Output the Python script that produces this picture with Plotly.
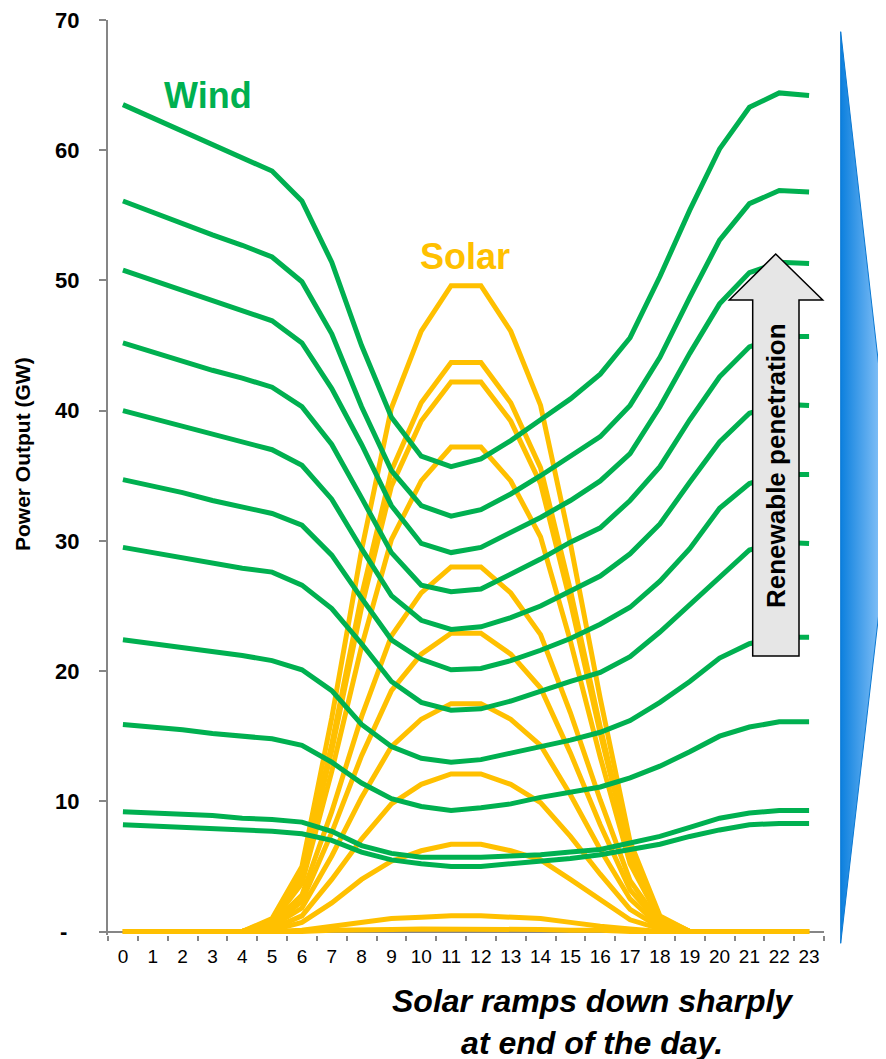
import plotly.graph_objects as go

# ---------------- data ----------------
hours = [str(h) for h in range(24)]

wind_1 = [63.5, 62.5, 61.5, 60.4, 59.4, 58.4, 56.1, 51.4, 45.0, 39.5, 36.5, 35.7, 36.3, 37.7, 39.3, 40.9, 42.8, 45.6, 50.3, 55.4, 60.1, 63.3, 64.4, 64.2]
wind_2 = [56.1, 55.2, 54.4, 53.5, 52.7, 51.8, 49.9, 45.9, 40.3, 35.4, 32.7, 31.9, 32.4, 33.6, 35.0, 36.5, 38.0, 40.4, 44.1, 48.7, 53.1, 55.9, 56.9, 56.8]
wind_3 = [50.8, 50.0, 49.2, 48.5, 47.7, 46.9, 45.2, 41.7, 37.4, 32.7, 29.8, 29.1, 29.5, 30.6, 31.8, 33.1, 34.6, 36.7, 40.3, 44.4, 48.2, 50.6, 51.4, 51.3]
wind_4 = [45.2, 44.5, 43.8, 43.1, 42.5, 41.8, 40.3, 37.4, 33.3, 29.1, 26.6, 26.1, 26.3, 27.4, 28.6, 29.9, 31.0, 33.1, 35.7, 39.3, 42.6, 44.9, 45.7, 45.7]
wind_5 = [40.0, 39.4, 38.8, 38.2, 37.6, 37.0, 35.8, 33.2, 29.4, 25.8, 23.9, 23.2, 23.4, 24.1, 25.0, 26.1, 27.3, 29.0, 31.3, 34.5, 37.6, 39.8, 40.5, 40.4]
wind_6 = [34.7, 34.2, 33.7, 33.1, 32.6, 32.1, 31.2, 28.9, 25.6, 22.4, 20.9, 20.1, 20.2, 20.8, 21.6, 22.5, 23.6, 24.9, 26.9, 29.4, 32.5, 34.4, 35.1, 35.1]
wind_7 = [29.5, 29.1, 28.7, 28.3, 27.9, 27.6, 26.6, 24.8, 22.1, 19.2, 17.6, 17.0, 17.1, 17.7, 18.4, 19.2, 19.9, 21.1, 23.0, 25.1, 27.3, 29.3, 29.9, 29.8]
wind_8 = [22.4, 22.1, 21.8, 21.5, 21.2, 20.8, 20.1, 18.5, 15.9, 14.2, 13.3, 13.0, 13.2, 13.7, 14.2, 14.7, 15.3, 16.2, 17.6, 19.2, 21.0, 22.1, 22.6, 22.6]
wind_9 = [15.9, 15.7, 15.5, 15.2, 15.0, 14.8, 14.3, 13.0, 11.4, 10.2, 9.6, 9.3, 9.5, 9.8, 10.3, 10.7, 11.1, 11.8, 12.7, 13.8, 15.0, 15.7, 16.1, 16.1]
wind_10 = [9.2, 9.1, 9.0, 8.9, 8.7, 8.6, 8.4, 7.7, 6.6, 6.0, 5.7, 5.7, 5.7, 5.8, 5.9, 6.1, 6.3, 6.8, 7.3, 8.0, 8.7, 9.1, 9.3, 9.3]
wind_11 = [8.2, 8.1, 8.0, 7.9, 7.8, 7.7, 7.5, 7.0, 6.1, 5.5, 5.2, 5.0, 5.0, 5.2, 5.4, 5.6, 5.9, 6.3, 6.7, 7.3, 7.8, 8.2, 8.3, 8.3]

solar_1 = [0, 0, 0, 0, 0, 1.0, 5.0, 16.4, 29.3, 40.2, 46.1, 49.6, 49.6, 46.1, 40.4, 29.8, 17.9, 6.9, 1.2, 0, 0, 0, 0, 0]
solar_2 = [0, 0, 0, 0, 0, 0.9, 4.4, 14.4, 25.8, 35.4, 40.6, 43.7, 43.7, 40.6, 35.6, 26.2, 15.7, 6.1, 1.1, 0, 0, 0, 0, 0]
solar_3 = [0, 0, 0, 0, 0, 0.8, 4.2, 13.9, 24.9, 34.2, 39.2, 42.2, 42.2, 39.2, 34.4, 25.3, 15.2, 5.9, 1.1, 0, 0, 0, 0, 0]
solar_4 = [0, 0, 0, 0, 0, 0.7, 3.7, 12.3, 21.9, 30.1, 34.6, 37.2, 37.2, 34.6, 30.3, 22.3, 13.4, 5.2, 0.9, 0, 0, 0, 0, 0]
solar_5 = [0, 0, 0, 0, 0, 0.6, 2.8, 9.2, 16.5, 22.7, 26.0, 28.0, 28.0, 26.0, 22.8, 16.8, 10.1, 3.9, 0.7, 0, 0, 0, 0, 0]
solar_6 = [0, 0, 0, 0, 0, 0.5, 2.3, 7.6, 13.5, 18.5, 21.3, 22.9, 22.9, 21.3, 18.7, 13.7, 8.2, 3.2, 0.6, 0, 0, 0, 0, 0]
solar_7 = [0, 0, 0, 0, 0, 0.4, 1.8, 5.8, 10.3, 14.2, 16.3, 17.5, 17.5, 16.3, 14.3, 10.5, 6.3, 2.5, 0.4, 0, 0, 0, 0, 0]
solar_8 = [0, 0, 0, 0, 0, 0.2, 1.2, 4.0, 7.1, 9.8, 11.3, 12.1, 12.1, 11.3, 9.9, 7.3, 4.4, 1.7, 0.3, 0, 0, 0, 0, 0]
solar_9 = [0, 0, 0, 0, 0, 0.1, 0.7, 2.2, 4.0, 5.4, 6.2, 6.7, 6.7, 6.2, 5.5, 4.0, 2.4, 0.9, 0.2, 0, 0, 0, 0, 0]
solar_10 = [0, 0, 0, 0, 0, 0.0, 0.1, 0.4, 0.7, 1.0, 1.1, 1.2, 1.2, 1.1, 1.0, 0.7, 0.4, 0.2, 0.0, 0, 0, 0, 0, 0]
solar_11 = [0, 0, 0, 0, 0, 0, 0, 0.1, 0.1, 0.15, 0.2, 0.2, 0.2, 0.2, 0.15, 0.1, 0.1, 0, 0, 0, 0, 0, 0, 0]

y_tickvals = [0, 10, 20, 30, 40, 50, 60, 70]
y_ticktext = ["-\u00a0\u00a0", "10", "20", "30", "40", "50", "60", "70"]

wind_series = [wind_1, wind_2, wind_3, wind_4, wind_5, wind_6, wind_7, wind_8, wind_9, wind_10, wind_11]
solar_series = [solar_1, solar_2, solar_3, solar_4, solar_5, solar_6, solar_7, solar_8, solar_9, solar_10, solar_11]

# ---------------- styling ----------------
W, H = 886, 1059
OFFX, OFFY = 8, 8          # page body margin: figure is drawn 8px in from the corner
GREEN = "#00B050"
GOLD = "#FFC000"
FONT = "Liberation Sans, Arial, sans-serif"
AXIS_GREY = "#868686"


def px(x):
    """screen x (px) -> paper fraction"""
    return (x - OFFX) / W


def py(y):
    """screen y (px, from top) -> paper fraction"""
    return 1 - (y - OFFY) / H


fig = go.Figure()

for s in solar_series:
    fig.add_trace(go.Scatter(x=hours, y=s, mode="lines",
                             line=dict(color=GOLD, width=5), hoverinfo="skip"))
for s in wind_series:
    fig.add_trace(go.Scatter(x=hours, y=s, mode="lines",
                             line=dict(color=GREEN, width=5), hoverinfo="skip"))

# decorative gradient triangle on an overlay axis pair measured in screen pixels
fig.add_trace(go.Scatter(
    x=[840.7, 893, 840.7, 840.7], y=[31.7, 491, 943.3, 31.7],
    xaxis="x2", yaxis="y2", mode="lines", fill="toself",
    fillgradient=dict(type="horizontal", start=840.7, stop=893,
                      colorscale=[[0, "#0C80DE"], [1, "#A8D4FF"]]),
    line=dict(color="#0A78D2", width=1), hoverinfo="skip"))

y_bottom_px = 931.5 + 0.25 * (911.5 / 70)

fig.update_layout(
    width=W, height=H, autosize=False,
    margin=dict(l=0, r=0, t=0, b=0, pad=0, autoexpand=False),
    paper_bgcolor="white", plot_bgcolor="rgba(0,0,0,0)",
    showlegend=False, hovermode=False,
    font=dict(family=FONT, color="black"),
    xaxis=dict(
        domain=[px(108), px(824)], type="category", range=[-0.5, 23.5],
        tickson="boundaries", ticks="outside", ticklen=5, tickwidth=1.5,
        tickcolor=AXIS_GREY, showline=False, showgrid=False, zeroline=False,
        tickangle=0, automargin=False, ticklabelstandoff=8,
        ticklabeloverflow="allow",
        tickfont=dict(size=19, family=FONT, color="black"),
        layer="below traces", fixedrange=True,
    ),
    yaxis=dict(
        domain=[py(y_bottom_px), py(20)], range=[-0.25, 70],
        tickvals=y_tickvals, ticktext=y_ticktext,
        ticks="outside", ticklen=7, tickwidth=1.5, tickcolor=AXIS_GREY,
        showline=True, linecolor=AXIS_GREY, linewidth=2,
        showgrid=False, zeroline=True, zerolinecolor=AXIS_GREY, zerolinewidth=2,
        automargin=False, ticklabeloverflow="allow",
        tickfont=dict(size=22, family=FONT, color="black", weight="bold"),
        ticklabelstandoff=15, layer="below traces", fixedrange=True,
    ),
    xaxis2=dict(domain=[0, 1], range=[OFFX, W + OFFX], visible=False, anchor="y2",
                automargin=False, fixedrange=True),
    yaxis2=dict(domain=[0, 1], range=[H + OFFY, OFFY], visible=False, anchor="x2",
                automargin=False, fixedrange=True),
)

# arrow (renewable penetration)
arrow_path = ("M {0},{1} L {2},{3} L {4},{3} L {4},{5} L {6},{5} L {6},{3} L {7},{3} Z"
              .format(px(775.7), py(254), px(822.7), py(300), px(799), py(656),
                      px(752.7), px(729.3)))
fig.add_shape(type="path", path=arrow_path, xref="paper", yref="paper",
              fillcolor="#E6E6E6", line=dict(color="black", width=1.5), layer="above")

ann = []
ann.append(dict(text="Wind", x=px(208), y=py(96), xref="paper", yref="paper",
                showarrow=False, xanchor="center", yanchor="middle",
                font=dict(size=36, color=GREEN, family=FONT, weight="bold")))
ann.append(dict(text="Solar", x=px(465), y=py(256), xref="paper", yref="paper",
                showarrow=False, xanchor="center", yanchor="middle",
                font=dict(size=36, color=GOLD, family=FONT, weight="bold")))
ann.append(dict(text="Power Output (GW)", x=px(22), y=py(454), xref="paper", yref="paper",
                showarrow=False, xanchor="center", yanchor="middle", textangle=-90,
                font=dict(size=21, color="black", family=FONT, weight="bold")))
ann.append(dict(text="Renewable penetration", x=px(776), y=py(466), xref="paper", yref="paper",
                showarrow=False, xanchor="center", yanchor="middle", textangle=-90,
                font=dict(size=26, color="black", family=FONT, weight="bold")))
ann.append(dict(text="Solar ramps down sharply<br>at end of the day.",
                x=px(593), y=py(1022), xref="paper", yref="paper",
                showarrow=False, xanchor="center", yanchor="middle", align="center",
                font=dict(size=32, color="black", family=FONT, weight="bold", style="italic")))
fig.update_layout(annotations=ann)

fig.write_html("out.html")
